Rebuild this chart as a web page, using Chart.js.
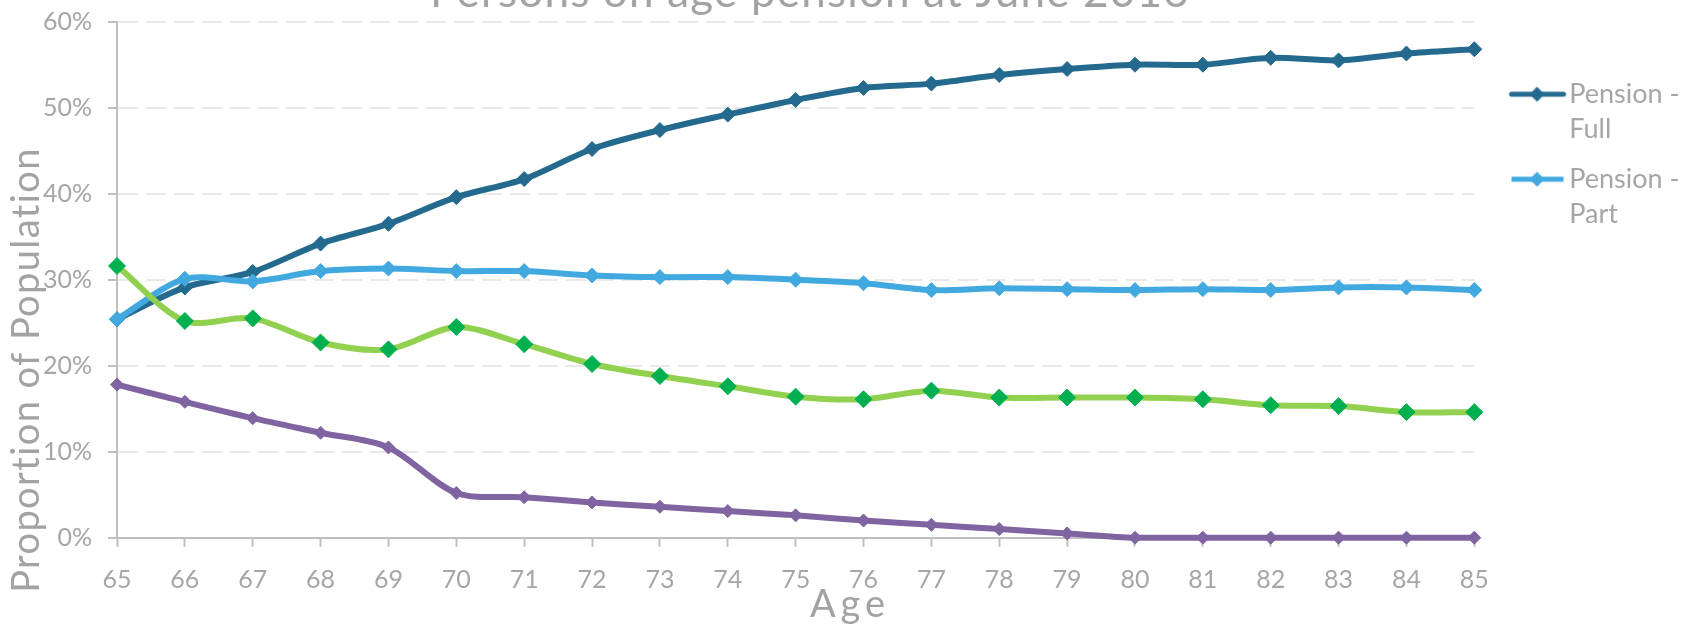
<!DOCTYPE html>
<html>
<head>
<meta charset="utf-8">
<title>Persons on age pension at June 2016</title>
<script src="https://cdn.jsdelivr.net/npm/chart.js@4"></script>
<style>
  html, body { margin: 0; padding: 0; background: #ffffff; }
  #wrap { width: 1681px; height: 625px; overflow: hidden; }
</style>
</head>
<body>
<div id="wrap"><canvas id="pensionChart" width="1681" height="625"></canvas></div>
<script>
// ================= DATA =================
const ages = ['65', '66', '67', '68', '69', '70', '71', '72', '73', '74', '75',
              '76', '77', '78', '79', '80', '81', '82', '83', '84', '85'];

const pensionFull = [25.4, 29.1, 30.9, 34.2, 36.5, 39.6, 41.7, 45.2, 47.4, 49.2, 50.9,
                     52.3, 52.8, 53.8, 54.5, 55.0, 55.0, 55.8, 55.5, 56.3, 56.8];
const pensionPart = [25.4, 30.1, 29.8, 31.0, 31.3, 31.0, 31.0, 30.5, 30.3, 30.3, 30.0,
                     29.6, 28.8, 29.0, 28.9, 28.8, 28.9, 28.8, 29.1, 29.1, 28.8];
const notOnPension = [31.6, 25.2, 25.5, 22.7, 21.9, 24.5, 22.5, 20.2, 18.8, 17.6, 16.4,
                      16.1, 17.1, 16.3, 16.3, 16.3, 16.1, 15.4, 15.3, 14.6, 14.6];
const otherGroup = [17.8, 15.8, 13.9, 12.2, 10.5, 5.2, 4.7, 4.1, 3.6, 3.1, 2.6,
                    2.0, 1.5, 1.0, 0.5, 0.0, 0.0, 0.0, 0.0, 0.0, 0.0];

const yTickValues = [0, 10, 20, 30, 40, 50, 60];

const chartTitle = 'Persons on age pension at June 2016';
const yTitle = 'Proportion of Population';
const xTitle = 'Age';

// ================= STYLE =================
const textGrey = '#a6a6a6';
const axisGrey = '#bfbfbf';
const gridGrey = '#e9e9e9';

Chart.defaults.font.family = 'Lato, "Open Sans", sans-serif';
Chart.defaults.color = textGrey;

// legend symbol: short line with a diamond in the middle
function legendIcon(lineColor, markColor, cap){
    let c = document.createElement('canvas');
    c.width = 90;
    c.height = 20;
    let g = c.getContext('2d');
    g.strokeStyle = lineColor;
    g.lineWidth = 5;
    g.lineCap = cap;
    g.beginPath();
    g.moveTo(34, 10);
    g.lineTo(86, 10);
    g.stroke();
    g.fillStyle = markColor;
    g.beginPath();
    g.moveTo(59.5, 2.5);
    g.lineTo(67, 10);
    g.lineTo(59.5, 17.5);
    g.lineTo(52, 10);
    g.closePath();
    g.fill();
    return c;
}

// titles sit where Excel left them (partly off the picture)
const excelTitles = {
    id: 'excelTitles',
    afterDraw(chart){
        const ctx = chart.ctx;
        ctx.save();
        ctx.fillStyle = '#a3a3a3';
        ctx.textAlign = 'center';
        ctx.textBaseline = 'alphabetic';
        ctx.font = '44px Lato';
        ctx.letterSpacing = '1.2px';
        ctx.fillText(chartTitle, 810, 7);
        ctx.font = '38px Lato';
        ctx.letterSpacing = '5px';
        ctx.fillText(xTitle, 850, 617);
        ctx.letterSpacing = '1.4px';
        ctx.translate(39, 370);
        ctx.rotate(-Math.PI / 2);
        ctx.fillText(yTitle, 0, 0);
        ctx.restore();
    }
};

function series(label, data, line, mark, radius, order){
    return {
        label: label,
        data: data,
        borderColor: line,
        backgroundColor: line,
        borderWidth: 6,
        tension: 0.3,
        pointStyle: 'rectRot',
        pointRadius: radius,
        pointHoverRadius: radius,
        pointBackgroundColor: mark,
        pointBorderColor: mark,
        pointBorderWidth: 1,
        clip: false,
        order: order
    };
}

// ================= CHART =================
const ctx = document.getElementById('pensionChart');

const pensionChart = new Chart(ctx, {
    type: 'line',
    data: {
        labels: ages,
        datasets: [
            series('Pension - Full', pensionFull, '#246a8e', '#246a8e', 7.5, 4),
            series('Pension - Part', pensionPart, '#41a9e0', '#41a9e0', 7.5, 3),
            series('Not on pension', notOnPension, '#92d050', '#00b050', 8.5, 2),
            series('Other', otherGroup, '#8064a2', '#8064a2', 6.5, 1)
        ]
    },
    options: {
        responsive: false,
        animation: false,
        devicePixelRatio: 1,
        layout: { padding: { top: 21.7, right: 0, bottom: 0, left: 0 } },
        scales: {
            x: {
                type: 'category',
                offset: false,
                grid: {
                    drawOnChartArea: false,
                    drawTicks: true,
                    tickLength: 9,
                    tickColor: axisGrey,
                    tickWidth: 2
                },
                border: { color: axisGrey, width: 2 },
                ticks: {
                    autoSkip: false,
                    maxRotation: 0,
                    padding: 18,
                    color: textGrey,
                    font: { size: 25 }
                },
                afterFit: (s) => { s.height = 87.3; }
            },
            y: {
                min: 0,
                max: 60,
                grid: {
                    color: gridGrey,
                    lineWidth: 2,
                    tickLength: 9,
                    tickColor: axisGrey,
                    tickWidth: 2,
                    tickBorderDash: []
                },
                border: { color: axisGrey, width: 2, dash: [20, 8] },
                ticks: {
                    padding: 16,
                    color: textGrey,
                    font: { size: 25 },
                    callback: (v) => v + '%'
                },
                afterBuildTicks: (s) => { s.ticks = yTickValues.map(v => ({ value: v })); },
                afterFit: (s) => {
                    s.width = 117;
                    s.paddingTop = 0;
                    s.paddingBottom = 0;
                }
            }
        },
        plugins: {
            tooltip: { enabled: false },
            legend: {
                position: 'right',
                align: 'start',
                maxWidth: 206.7,
                title: { display: true, text: '', padding: { top: 0, bottom: 32 }, font: { size: 10 } },
                labels: {
                    usePointStyle: true,
                    pointStyleWidth: 66.5,
                    padding: 15,
                    color: textGrey,
                    font: { size: 27, lineHeight: 35 / 27 },
                    generateLabels: (chart) => chart.data.datasets.slice(0, 2).map((ds, i) => ({
                        text: ds.label.replace(' - ', ' -\n').split('\n'),
                        pointStyle: legendIcon(ds.borderColor, ds.pointBackgroundColor, i === 0 ? 'round' : 'butt'),
                        fillStyle: ds.borderColor,
                        strokeStyle: ds.borderColor,
                        lineWidth: 0,
                        fontColor: textGrey,
                        hidden: false,
                        datasetIndex: i
                    }))
                }
            }
        }
    },
    plugins: [excelTitles]
});
</script>
</body>
</html>
